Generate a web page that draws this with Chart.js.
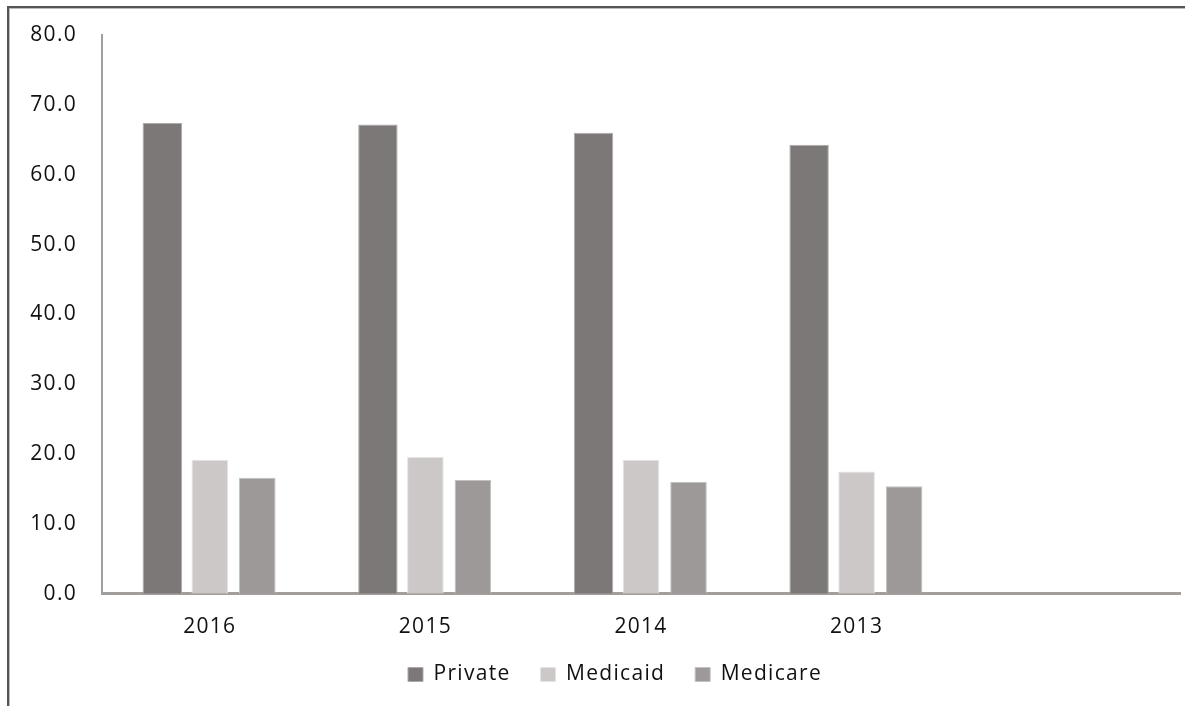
<!DOCTYPE html>
<html>
<head>
<meta charset="utf-8">
<script src="https://cdn.jsdelivr.net/npm/chart.js@4/dist/chart.umd.min.js"></script>
<style>
  html, body { margin: 0; padding: 0; background: #fff; overflow: hidden; }
  #wrap { position: relative; width: 1185px; height: 706px; }
  #frame {
    position: absolute; left: 7px; top: 6px; width: 1200px; height: 720px;
    border-left: 2px solid #555; border-top: 2px solid #555;
    box-shadow: inset 1px 1px 0 #bbb;
  }
  canvas { position: absolute; left: 0; top: 0; }
</style>
</head>
<body>
<div id="wrap">
  <div id="frame"></div>
  <canvas id="main-chart" width="1185" height="706"></canvas>
</div>
<script>
// years, plus an empty slot on the right like the original
const years = ["2016", "2015", "2014", "2013", ""];

const privateVals = [67.4, 67.2, 66.0, 64.3, null];
const medicaidVals = [19.2, 19.6, 19.2, 17.5, null];
const medicareVals = [16.6, 16.3, 16.0, 15.4, null];

const axisColor = "#a29e9b";
const textFont = { family: "Open Sans", size: 21 };

// the original text is a bit wider than Open Sans, so space the letters out
const spacing = {
  id: "spacing",
  beforeUpdate(chart) {
    chart.ctx.letterSpacing = "1.3px";
  },
  beforeDraw(chart) {
    chart.ctx.letterSpacing = "1.3px";
  },
};

const ctx = document.getElementById("main-chart").getContext("2d");

window.bread = new Chart(ctx, {
  type: "bar",
  data: {
    labels: years,
    datasets: [
      {
        label: "Private",
        data: privateVals,
        backgroundColor: "#7c7877",
        borderColor: "#aeaaa9",
        borderWidth: 1,
        barPercentage: 0.83,
      },
      {
        label: "Medicaid",
        data: medicaidVals,
        backgroundColor: "#cbc8c7",
        borderColor: "#e6e4e4",
        borderWidth: 1,
        barPercentage: 0.77,
      },
      {
        label: "Medicare",
        data: medicareVals,
        backgroundColor: "#9d9998",
        borderColor: "#c4c1c0",
        borderWidth: 1,
        barPercentage: 0.77,
      },
    ],
  },
  plugins: [spacing],
  options: {
    responsive: false,
    animation: false,
    categoryPercentage: 0.661,
    layout: {
      padding: { left: 50, right: 5, top: 18, bottom: 11 },
    },
    scales: {
      x: {
        grid: { display: false, drawTicks: false },
        border: { display: true, color: axisColor, width: 3 },
        ticks: { color: "#111", font: textFont, padding: 21 },
      },
      y: {
        min: 0,
        max: 80,
        afterFit: (scale) => {
          scale.width = 52;
          // labels hang out to the left of the narrow axis box, don't clip them
          scale._computeLabelArea = () => null;
        },
        grid: { display: false, drawTicks: false },
        border: { display: true, color: axisColor, width: 2 },
        ticks: {
          stepSize: 10,
          color: "#111",
          font: { family: "Open Sans", size: 21, lineHeight: 0.95 },
          padding: 25,
          callback: (v) => Number(v).toFixed(1),
        },
      },
    },
    plugins: {
      legend: {
        position: "bottom",
        labels: {
          color: "#111",
          font: textFont,
          boxWidth: 15,
          boxHeight: 14,
          padding: 3,
          useBorderRadius: false,
          // wider gap between items without adding vertical space
          generateLabels: (chart) => {
            const items = Chart.defaults.plugins.legend.labels.generateLabels(chart);
            items.forEach((it, i) => {
              if (i < items.length - 1) it.text = it.text + "\u00a0\u00a0\u00a0\u00a0";
            });
            return items;
          },
        },
      },
      tooltip: { enabled: false },
    },
  },
});
</script>
</body>
</html>
